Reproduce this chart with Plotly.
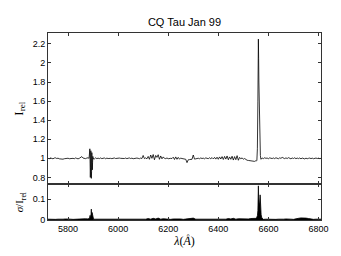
import plotly.graph_objects as go

# ---- data ----
grid_start = 5720   # Angstrom, 5 A sampling of the relative flux
grid_step = 5
flux = [
    1.000, 0.996, 1.004, 1.001, 0.995, 1.003, 1.005, 0.998, 1.002, 0.995,
    0.993, 0.998, 0.991, 0.996, 0.999, 0.994, 1.001, 0.996, 1.000, 1.003,
    1.000, 0.996, 1.004, 0.999, 0.995, 1.000, 1.008, 1.018, 1.003, 1.000,
    0.997, 1.003, 1.006, 1.000, 1.000, 1.000, 1.000, 0.994, 1.005, 0.997,
    1.002, 0.997, 1.004, 0.997, 1.001, 1.004, 0.996, 1.002, 0.998, 1.003,
    1.000, 0.997, 1.002, 1.004, 0.998, 1.001, 0.996, 1.003, 1.000, 0.997,
    1.002, 0.998, 1.003, 0.997, 1.001, 1.004, 0.998, 1.002, 0.996, 1.000,
    0.997, 1.003, 1.000, 0.996, 1.003, 0.998, 1.030, 0.997, 1.005, 0.995,
    1.020, 0.990, 1.035, 1.000, 1.040, 0.985, 1.030, 1.010, 1.038, 0.990,
    1.025, 0.995, 1.015, 1.000, 0.997, 1.004, 0.996, 1.002, 1.000, 0.998,
    1.012, 0.988, 1.015, 0.990, 1.010, 0.992, 1.002, 0.998, 0.996, 0.992,
    0.990, 0.955, 0.985, 0.987, 0.985, 0.990, 1.035, 0.992, 0.995, 0.998,
    1.001, 0.996, 1.004, 0.998, 1.002, 0.995, 1.005, 1.000, 0.997, 1.006,
    0.996, 1.008, 0.994, 1.010, 0.992, 1.012, 0.990, 1.015, 0.993, 1.018,
    0.988, 1.020, 0.992, 1.025, 0.985, 1.015, 0.990, 1.022, 0.982, 1.018,
    0.986, 1.028, 0.980, 1.010, 0.995, 1.005, 0.990, 0.998, 0.985, 0.980,
    0.978, 0.975, 0.972, 0.970, 0.972, 0.968, 0.975, 0.980, 1.000, 1.000,
    1.000, 1.004, 0.997, 1.006, 1.000, 1.003, 0.996, 1.005, 1.001, 0.998,
    1.004, 0.997, 1.006, 1.001, 0.996, 1.005, 1.000, 1.010, 1.003, 0.997,
    1.005, 0.998, 1.007, 1.002, 0.995, 1.004, 0.998, 1.006, 0.996, 1.003,
    0.997, 1.004, 0.995, 1.003, 0.998, 0.994, 1.002, 0.996, 1.000, 1.003,
    0.997, 1.002, 0.996, 1.001, 1.003, 0.998, 1.002, 0.997, 1.000,
]
# Na D detail
lam_nad = [5884, 5886, 5887, 5888, 5889, 5890, 5891, 5892, 5893, 5894, 5895, 5896, 5897, 5898, 5899, 5900, 5902]
flux_nad = [1.00, 1.04, 1.10, 0.95, 0.80, 0.90, 1.08, 1.02, 0.79, 0.86, 1.06, 0.98, 0.88, 0.96, 1.02, 0.99, 1.00]
# H-alpha detail
lam_ha = [6550, 6552, 6554, 6556, 6558, 6559, 6560, 6561, 6562, 6563, 6564, 6566, 6568, 6570, 6572, 6575]
flux_ha = [0.975, 0.972, 0.980, 1.10, 1.60, 1.95, 2.25, 2.05, 1.80, 1.55, 1.35, 1.15, 1.03, 0.99, 1.00, 1.003]

sig_start = 5720    # 10 A sampling of sigma / I_rel
sig_step = 10
sigma = [
    .004, .003, .005, .003, .004, .003, .004, .005, .003, .004,
    .003, .004, .003, .005, .004, .006, .005, .008, .012, .004,
    .004, .003, .004, .003, .005, .003, .004, .003, .004, .003,
    .004, .003, .004, .005, .003, .004, .003, .004, .006, .004,
    .007, .004, .008, .005, .009, .004, .006, .004, .005, .003,
    .005, .006, .004, .005, .003, .004, .007, .005, .009, .004,
    .004, .003, .005, .004, .003, .004, .005, .004, .003, .005,
    .006, .004, .007, .005, .008, .004, .006, .005, .004, .006,
    .005, .007, .006, .010, .010, .004, .003, .004, .003, .004,
    .004, .003, .004, .003, .004, .005, .003, .004, .003, .004,
    .008, .010, .011, .009, .007, .004, .003, .004, .003, .004,
]
lam_nad_s = [5884, 5886, 5888, 5890, 5892, 5893, 5894, 5896, 5897, 5898, 5900, 5902]
sig_nad = [.006, .010, .022, .008, .030, .052, .020, .036, .028, .012, .006, .004]
lam_ha_s = [6550, 6553, 6556, 6558, 6559, 6560, 6561, 6563, 6565, 6567, 6569, 6571, 6574, 6577]
sig_ha = [.008, .012, .020, .045, .090, .163, .110, .085, .070, .120, .060, .025, .010, .005]

x_ticks = [5800, 6000, 6200, 6400, 6600, 6800]
y_ticks_top = [0.8, 1.0, 1.2, 1.4, 1.6, 1.8, 2.0, 2.2]
y_ticks_bot = [0, 0.1]


def splice(gx, gy, details):
    pts = list(zip(gx, gy))
    for dx, dy in details:
        lo, hi = min(dx) - 1, max(dx) + 1
        pts = [p for p in pts if not (lo <= p[0] <= hi)]
        pts += list(zip(dx, dy))
    pts.sort()
    return [p[0] for p in pts], [p[1] for p in pts]


lam_grid = [grid_start + grid_step * i for i in range(len(flux))]
lam_f, flux_f = splice(lam_grid, flux, [(lam_nad, flux_nad), (lam_ha, flux_ha)])
lam_sgrid = [sig_start + sig_step * i for i in range(len(sigma))]
lam_s, sig_s = splice(lam_sgrid, sigma, [(lam_nad_s, sig_nad), (lam_ha_s, sig_ha)])

fig = go.Figure()
fig.add_trace(go.Scatter(x=lam_f, y=flux_f, mode="lines",
                         line=dict(color="black", width=0.8),
                         xaxis="x", yaxis="y", showlegend=False))
fig.add_trace(go.Scatter(x=lam_s, y=sig_s, mode="lines", fill="tozeroy",
                         fillcolor="black", line=dict(color="black", width=0.8),
                         xaxis="x2", yaxis="y2", showlegend=False))

axis_common = dict(showline=True, linecolor="#333", linewidth=1, mirror="ticks",
                   ticks="inside", ticklen=3, tickcolor="#333", showgrid=False,
                   zeroline=False, tickfont=dict(family="Liberation Sans", size=9, color="black"))
split = 36 / 189

fig.update_layout(
    width=341, height=256,
    margin=dict(l=48, r=20, t=33, b=34),
    paper_bgcolor="white", plot_bgcolor="white",
    title=dict(text="CQ Tau Jan 99", x=0.5, xref="paper", y=1 - 22 / 256, yref="container",
               xanchor="center", yanchor="middle",
               font=dict(family="Liberation Sans", size=11, color="black")),
    xaxis=dict(domain=[0, 1], anchor="y", range=[5720, 6810], tickvals=x_ticks,
               showticklabels=False, matches="x2", **axis_common),
    yaxis=dict(domain=[split, 1], anchor="x", range=[0.727, 2.314], tickvals=y_ticks_top,
               ticktext=["0.8", "1", "1.2", "1.4", "1.6", "1.8", "2", "2.2"],
               title=dict(text="I<sub>rel</sub>", standoff=6,
                          font=dict(family="Liberation Serif", size=13, color="black")),
               **axis_common),
    xaxis2=dict(domain=[0, 1], anchor="y2", range=[5720, 6810], tickvals=x_ticks,
                title=dict(text="<i>λ</i>(<i>Å</i>)", standoff=2,
                           font=dict(family="Liberation Serif", size=12, color="black")),
                **axis_common),
    yaxis2=dict(domain=[0, split], anchor="x2", range=[0, 0.17], tickvals=y_ticks_bot,
                ticktext=["0", "0.1"],
                title=dict(text="<i>σ</i>/I<sub>rel</sub>", standoff=6,
                           font=dict(family="Liberation Serif", size=11, color="black")),
                **axis_common),
)

fig.write_html("out.html", config={"displayModeBar": False},
               post_script="document.body.style.margin='0';")
